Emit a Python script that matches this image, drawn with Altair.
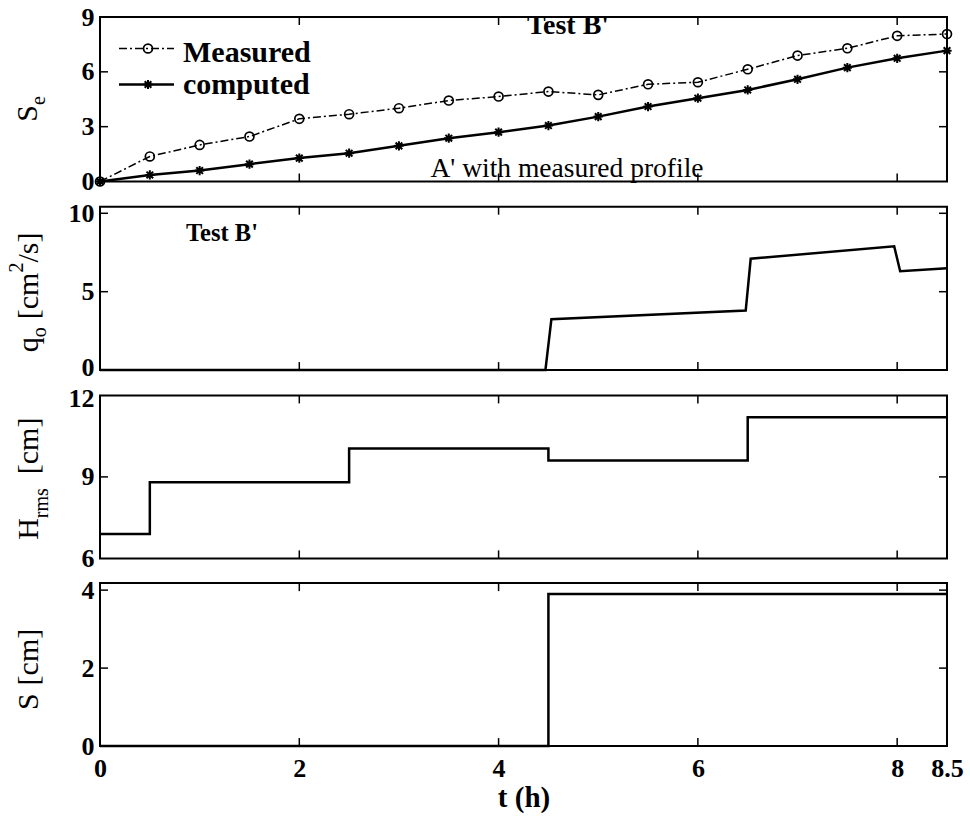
import altair as alt
import pandas as pd

# ---------------- data ----------------
t_half = [0, 0.5, 1, 1.5, 2, 2.5, 3, 3.5, 4, 4.5, 5, 5.5, 6, 6.5, 7, 7.5, 8, 8.5]
se_measured = [0, 1.37, 2.0, 2.46, 3.43, 3.68, 4.01, 4.43, 4.65, 4.92, 4.74, 5.32, 5.43, 6.14, 6.89, 7.29, 7.97, 8.07]
se_computed = [0, 0.36, 0.60, 0.95, 1.28, 1.55, 1.95, 2.37, 2.70, 3.06, 3.55, 4.10, 4.56, 5.01, 5.59, 6.23, 6.74, 7.16]

q_t = [0, 4.47, 4.53, 6.48, 6.53, 7.97, 8.03, 8.5]
q_vals = [0, 0, 3.25, 3.8, 7.1, 7.9, 6.3, 6.5]

h_t = [0, 0.5, 2.5, 4.5, 6.5, 8.5]
h_vals = [6.9, 8.8, 10.05, 9.6, 11.2, 11.2]

s_t = [0, 4.5, 8.5]
s_vals = [0, 3.9, 3.9]

x_labels = [0, 2, 4, 6, 8, 8.5]
x_inner_ticks = [2, 4, 6, 8]

FONT = "Liberation Serif"
W = 847
TICK = 8

xs = alt.Scale(domain=[0, 8.5], nice=False, zero=False)

CHAR_W = {"S": 0.556, "e": 0.444, "q": 0.5, "o": 0.5, " ": 0.25, "[": 0.333, "c": 0.444,
          "m": 0.778, "2": 0.5, "/": 0.278, "s": 0.389, "]": 0.333, "H": 0.722, "r": 0.333}


def tw(s, fs):
    return sum(CHAR_W.get(ch, 0.5) for ch in s) * fs


def one(**kw):
    return pd.DataFrame([kw]) if kw else pd.DataFrame({"a": [0]})


def ytitle(pieces, center_y, base_x):
    # pieces: (text, fontsize, baseline shift, gap before)
    total = sum(tw(p, fs) + g for p, fs, _, g in pieces)
    cur = center_y + total / 2
    layers = []
    for p, fs, shift, g in pieces:
        cur -= g
        layers.append(
            alt.Chart(one(txt=p)).mark_text(
                angle=270, align="left", baseline="alphabetic", font=FONT,
                fontSize=fs, fontWeight="normal", color="black"
            ).encode(x=alt.value(base_x + shift), y=alt.value(cur), text="txt:N")
        )
        cur -= tw(p, fs)
    return layers


def panel(layers, ydom, ylabels, yinner, height, show_x, title_layers, extra=None, label_offset=None):
    X = alt.X("t:Q", scale=xs,
              axis=(alt.Axis(values=x_labels, labelFlush=False, labelOverlap=False, title="t (h)",
                             labelPadding=9, labelFontSize=26, titleY=60, titleBaseline="alphabetic",
                             labelExpr="datum.value")
                    if show_x else None))
    yax = dict(values=ylabels, labelFlush=False, labelOverlap=False, title=None, labelPadding=6)
    if label_offset is not None:
        yax["labelOffset"] = label_offset
    Y = alt.Y("v:Q", scale=alt.Scale(domain=ydom, nice=False, zero=False), axis=alt.Axis(**yax))
    out = []
    for mk, df in layers:
        out.append(mk.properties(data=df).encode(x=X, y=Y))
    xt = pd.DataFrame({"t": x_inner_ticks})
    yt = pd.DataFrame({"v": yinner})
    tick_style = dict(color="black", strokeWidth=1.5)
    out.append(alt.Chart(xt).mark_rule(**tick_style).encode(x=X, y=alt.value(0), y2=alt.value(TICK)))
    out.append(alt.Chart(xt).mark_rule(**tick_style).encode(x=X, y=alt.value(height - TICK), y2=alt.value(height)))
    out.append(alt.Chart(yt).mark_rule(**tick_style).encode(y=Y, x=alt.value(0), x2=alt.value(TICK)))
    out.append(alt.Chart(yt).mark_rule(**tick_style).encode(y=Y, x=alt.value(W - TICK), x2=alt.value(W)))
    out += title_layers
    if extra:
        out += extra
    return alt.layer(*out).properties(width=W, height=height)


ASTERISK = "M -1 0 L 1 0 M 0 -1 L 0 1 M -0.72 -0.72 L 0.72 0.72 M -0.72 0.72 L 0.72 -0.72"
TF = 30   # axis title font
SF = 20   # sub/superscript font

# ---------- panel 1 ----------
H1 = 164.5
df_meas = pd.DataFrame({"t": t_half, "v": se_measured})
df_comp = pd.DataFrame({"t": t_half, "v": se_computed})
p1_layers = [
    (alt.Chart().mark_line(color="black", strokeWidth=1.5, strokeDash=[8, 3, 2, 3]), df_meas),
    (alt.Chart().mark_point(shape="circle", size=80, filled=False, color="black", strokeWidth=1.7, opacity=1), df_meas),
    (alt.Chart().mark_line(color="black", strokeWidth=2.5), df_comp),
    (alt.Chart().mark_point(shape=ASTERISK, size=85, filled=False, color="black", strokeWidth=2, opacity=1), df_comp),
]
p1_extra = [
    # invisible anchor fixing the page origin
    alt.Chart(one()).mark_rule(strokeOpacity=0, strokeWidth=0).encode(
        x=alt.value(-99), x2=alt.value(-99), y=alt.value(-15.5), y2=alt.value(-15.5)),
    # legend
    alt.Chart(one()).mark_rule(color="black", strokeWidth=1.5, strokeDash=[8, 3, 2, 3]).encode(
        x=alt.value(19), x2=alt.value(74), y=alt.value(31.5)),
    alt.Chart(one()).mark_point(shape="circle", size=80, filled=False, color="black", strokeWidth=1.7, opacity=1).encode(
        x=alt.value(48), y=alt.value(31.5)),
    alt.Chart(one()).mark_rule(color="black", strokeWidth=2.5).encode(
        x=alt.value(19), x2=alt.value(74), y=alt.value(67.5)),
    alt.Chart(one()).mark_point(shape=ASTERISK, size=85, filled=False, color="black", strokeWidth=2, opacity=1).encode(
        x=alt.value(48), y=alt.value(67.5)),
    alt.Chart(one(txt="Measured")).mark_text(align="left", baseline="alphabetic", font=FONT, fontSize=30,
                                             fontWeight="bold", color="black").encode(
        x=alt.value(83), y=alt.value(45), text="txt:N"),
    alt.Chart(one(txt="computed")).mark_text(align="left", baseline="alphabetic", font=FONT, fontSize=30,
                                             fontWeight="bold", color="black").encode(
        x=alt.value(83), y=alt.value(77), text="txt:N"),
    alt.Chart(one(txt="Test B'")).mark_text(align="center", baseline="alphabetic", font=FONT, fontSize=28,
                                            fontWeight="bold", color="black").encode(
        x=alt.value(468), y=alt.value(17), text="txt:N"),
    alt.Chart(one(txt="A' with measured profile")).mark_text(align="center", baseline="alphabetic", font=FONT,
                                                             fontSize=27.5, fontWeight="normal", color="black").encode(
        x=alt.value(467), y=alt.value(160), text="txt:N"),
]
p1 = panel(p1_layers, [0, 9], [0, 3, 6, 9], [3, 6], H1, False,
           ytitle([("S", TF, 0, 0), ("e", SF, 8, 0)], 92, -63), p1_extra)

# ---------- panel 2 ----------
H2 = 163.4
df_q = pd.DataFrame({"t": q_t, "v": q_vals})
p2_layers = [(alt.Chart().mark_line(color="black", strokeWidth=2.5), df_q)]
p2_extra = [
    alt.Chart(one(txt="Test B'")).mark_text(align="left", baseline="alphabetic", font=FONT, fontSize=24.5,
                                            fontWeight="bold", color="black").encode(
        x=alt.value(86), y=alt.value(34), text="txt:N"),
]
p2 = panel(p2_layers, [0, 10.42], [0, 5, 10], [5, 10], H2, False,
           ytitle([("q", TF, 0, 0), ("o", SF, 8, 0), ("[cm", TF, 0, 8), ("2", SF, -15, 0), ("/s]", TF, 0, 0)],
                  85.7, -62),
           p2_extra,
           label_offset={"condition": {"test": "datum.value == 0", "value": -3}, "value": 0})

# ---------- panel 3 ----------
H3 = 163
df_h = pd.DataFrame({"t": h_t, "v": h_vals})
p3_layers = [(alt.Chart().mark_line(color="black", strokeWidth=2.5, interpolate="step-after"), df_h)]
p3 = panel(p3_layers, [6, 12], [6, 9, 12], [9], H3, False,
           ytitle([("H", TF, 0, 0), ("rms", SF, 10, 0), ("[cm]", TF, 0, 14)], 83.3, -62),
           label_offset={"condition": {"test": "datum.value == 12", "value": 3}, "value": 0})

# ---------- panel 4 ----------
H4 = 163
df_s = pd.DataFrame({"t": s_t, "v": s_vals})
p4_layers = [(alt.Chart().mark_line(color="black", strokeWidth=2.5, interpolate="step-after"), df_s)]
p4 = panel(p4_layers, [0, 4.18], [0, 2, 4], [2, 4], H4, True,
           ytitle([("S", TF, 0, 0), ("[cm]", TF, 0, 8)], 86.3, -62))

chart = alt.vconcat(p1, p2, p3, p4, spacing=24.7, bounds="flush").properties(
    padding={"left": 0, "top": 0, "right": 0, "bottom": 0}
).configure(background="white").configure_view(
    stroke="black", strokeWidth=2
).configure_axis(
    labelFont=FONT, labelFontWeight="bold", labelFontSize=26, labelColor="black",
    titleFont=FONT, titleFontWeight="bold", titleFontSize=29, titleColor="black",
    grid=False, domain=False, ticks=False
)

chart.save("out.html", embed_options={"renderer": "svg", "actions": False})
